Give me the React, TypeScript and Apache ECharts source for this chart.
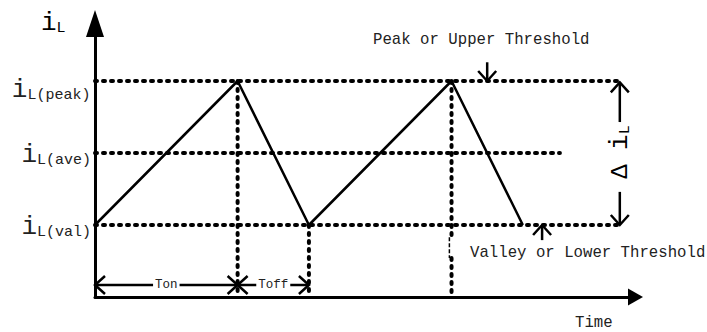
import React, { useEffect, useRef } from "react";
import * as echarts from "echarts";

// ---- data ----
const waveTimes = [0, 2, 3, 5, 6];
const waveCurrents = [1, 3, 1, 3, 1];
const levelNames = ["val", "ave", "peak"];
const levelValues = [1, 2, 3];
const levelLineEnds = [7.36, 6.52, 7.4];
const onPeriod = [0, 2];
const offPeriod = [2, 3];
const markerTimes = [2, 3, 5];
const markerTops = [3, 1, 3];
const xAxisMax = 7.58;
const yAxisMax = 3.8;

const FONT = '"Liberation Mono", "DejaVu Sans Mono", monospace';
const INK = "#000";
const TEXT = "#222";

const dotted = { color: INK, width: 4, type: [2, 6] as number[], cap: "round" as const };

type Annot = {
  from: [number, number];
  to: [number, number];
  heads: "both" | "end";
  label?: string;
};

const valLevel = levelValues[0];
const peakLevel = levelValues[2];
const annotations: Annot[] = [
  { from: [onPeriod[0], 0.167], to: [onPeriod[1], 0.167], heads: "both", label: "Ton" },
  { from: [offPeriod[0], 0.167], to: [offPeriod[1], 0.167], heads: "both", label: "Toff" },
  { from: [5.5, 3.26], to: [5.5, peakLevel], heads: "end" },
  { from: [6.27, 0.79], to: [6.27, valLevel], heads: "end" },
  { from: [7.36, 2.43], to: [7.36, peakLevel - 0.02], heads: "end" },
  { from: [7.36, 1.46], to: [7.36, valLevel], heads: "end" },
];

function head(tip: number[], from: number[], len = 10, half = 9) {
  const dx = tip[0] - from[0];
  const dy = tip[1] - from[1];
  const d = Math.hypot(dx, dy) || 1;
  const ux = dx / d;
  const uy = dy / d;
  const bx = tip[0] - ux * len;
  const by = tip[1] - uy * len;
  const px = -uy;
  const py = ux;
  return {
    type: "polyline",
    shape: { points: [[bx + px * half, by + py * half], [tip[0], tip[1]], [bx - px * half, by - py * half]] },
    style: { stroke: INK, lineWidth: 2.5, fill: null },
  };
}

const rich = {
  i: { fontFamily: FONT, fontSize: 26, color: TEXT, lineHeight: 30, verticalAlign: "bottom" },
  s: { fontFamily: FONT, fontSize: 15, color: TEXT, lineHeight: 26, verticalAlign: "bottom" },
  d: { fontFamily: FONT, fontSize: 24, color: TEXT, lineHeight: 30, verticalAlign: "bottom" },
  h: { fontFamily: FONT, fontSize: 1, color: TEXT, lineHeight: 44, verticalAlign: "bottom" },
};

export default function App() {
  const ref = useRef<HTMLDivElement>(null);
  useEffect(() => {
    const chart = echarts.init(ref.current!, null, { renderer: "svg" });

    const levelSeries = levelValues.map((v, i) => ({
      type: "line",
      data: [[0, v], [levelLineEnds[i], v]],
      showSymbol: false,
      symbol: "none",
      silent: true,
      lineStyle: dotted,
      z: 2,
    }));

    const markerSeries: any[] = markerTimes.map((t, i) => {
      if (t === 5) {
        return [
          { type: "line", data: [[t, markerTops[i]], [t, 0.83]], showSymbol: false, symbol: "none", silent: true, lineStyle: dotted, z: 2 },
          { type: "line", data: [[t - 0.03, 0.83], [t - 0.03, 0.54]], showSymbol: false, symbol: "none", silent: true, lineStyle: { color: INK, width: 1.5, type: [4, 2] }, z: 2 },
          { type: "line", data: [[t, 0.54], [t, 0]], showSymbol: false, symbol: "none", silent: true, lineStyle: dotted, z: 2 },
        ];
      }
      return [{ type: "line", data: [[t, markerTops[i]], [t, 0]], showSymbol: false, symbol: "none", silent: true, lineStyle: dotted, z: 2 }];
    }).flat();

    const option: any = {
      animation: false,
      backgroundColor: "#fff",
      grid: { left: 95, right: 71.5, top: 23.4, bottom: 35, containLabel: false, outerBoundsMode: "none" },
      xAxis: {
        type: "value",
        min: 0,
        max: xAxisMax,
        axisLine: { show: true, onZero: false, symbol: ["none", "triangle"], symbolSize: [17, 15], lineStyle: { color: INK, width: 3 } },
        axisTick: { show: false },
        axisLabel: { show: false },
        splitLine: { show: false },
      },
      yAxis: {
        type: "value",
        min: 0,
        max: yAxisMax,
        axisLine: { show: true, onZero: false, symbol: ["none", "triangle"], symbolSize: [18, 27], lineStyle: { color: INK, width: 3 } },
        axisTick: { show: false },
        splitLine: { show: false },
        axisLabel: {
          show: true,
          customValues: levelValues,
          margin: 4,
          formatter: (v: number) => {
            const idx = levelValues.indexOf(v);
            const name = levelNames[idx];
            if (name === "peak") return `{i|i}{s|L(${name})}{h| }`;
            return `{i|i}{s|L(${name})}`;
          },
          rich,
        },
      },
      graphic: [
        { type: "text", left: 41, top: 10, style: { text: "{i|i}{s|L}", rich } },
        { type: "text", x: 373, y: 40, style: { text: "Peak or Upper Threshold", font: `15.7px ${FONT}`, fill: TEXT, verticalAlign: "middle" } },
        { type: "text", x: 470, y: 253, style: { text: "Valley or Lower Threshold", font: `15.7px ${FONT}`, fill: TEXT, verticalAlign: "middle" } },
        { type: "text", x: 575, y: 323, style: { text: "Time", font: `15.7px ${FONT}`, fill: TEXT, verticalAlign: "middle" } },
      ],
      series: [
        ...levelSeries,
        ...markerSeries,
        {
          type: "line",
          data: waveTimes.map((t, i) => [t, waveCurrents[i]]),
          showSymbol: false,
          symbol: "none",
          silent: true,
          lineStyle: { color: INK, width: 2.5 },
          z: 3,
        },
        {
          type: "custom",
          coordinateSystem: "cartesian2d",
          clip: false,
          silent: true,
          z: 4,
          encode: { x: 0, y: 1 },
          data: annotations.map((a) => [a.from[0], a.from[1]]),
          renderItem: (params: any, api: any) => {
            const a = annotations[params.dataIndex];
            const p1 = api.coord(a.from);
            const p2 = api.coord(a.to);
            const children: any[] = [
              { type: "line", shape: { x1: p1[0], y1: p1[1], x2: p2[0], y2: p2[1] }, style: { stroke: INK, lineWidth: 2.5 } },
              head(p2, p1),
            ];
            if (a.heads === "both") children.push(head(p1, p2));
            if (a.label) {
              children.push({
                type: "text",
                style: {
                  text: a.label,
                  x: (p1[0] + p2[0]) / 2,
                  y: (p1[1] + p2[1]) / 2,
                  align: "center",
                  verticalAlign: "middle",
                  font: `12.5px ${FONT}`,
                  fill: TEXT,
                  backgroundColor: "#fff",
                  padding: [0, 2],
                },
              });
            }
            if (params.dataIndex === 4) {
              const mid = api.coord([a.from[0], (peakLevel + valLevel) / 2]);
              children.push({
                type: "text",
                x: mid[0] - 2,
                y: mid[1] - 1,
                rotation: Math.PI / 2,
                style: {
                  text: "{d|Δ }{i|i}{s|L}",
                  x: 0,
                  y: 0,
                  align: "center",
                  verticalAlign: "middle",
                  rich,
                },
              });
            }
            return { type: "group", children };
          },
        },
      ],
    };
    chart.setOption(option);
    return () => chart.dispose();
  }, []);
  return (
    <div
      ref={ref}
      style={{ position: "fixed", left: 0, top: 0, width: 707, height: 332, background: "#fff" }}
    />
  );
}
